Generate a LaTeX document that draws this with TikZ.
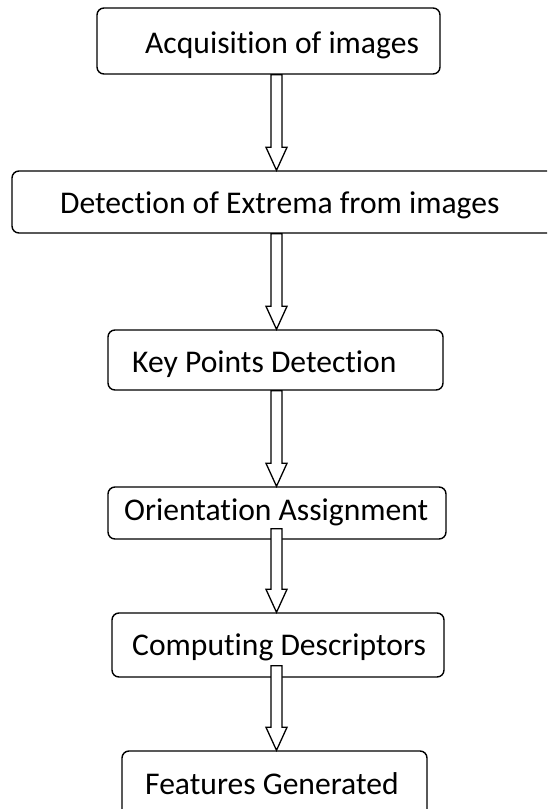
\documentclass[tikz,border=0pt]{standalone}
\usepackage{fontspec}
\setmainfont{Carlito}[Ligatures=NoCommon]
\usetikzlibrary{calc}
% hollow block arrow: #1 start point, #2 tip point (only its y is used)
\newcommand\blockarrow[2]{%
  \draw[flow] let \p1=(#1), \p2=(#2) in
    (271,\y1) -- (271,\y2+23pt) -- (266,\y2+23pt) -- (276.5,\y2)
    -- (287,\y2+23pt) -- (282,\y2+23pt) -- (282,\y1) -- cycle;}
\begin{document}
\begin{tikzpicture}[x=1pt,y=1pt,
  box/.style={draw, line width=1.4pt, rounded corners=7pt, fill=white, inner sep=0pt},
  lbl/.style={anchor=base west, font=\fontsize{31.6}{36}\selectfont, inner sep=0pt},
  flow/.style={draw, line width=1.3pt, fill=white, line join=miter}]
\useasboundingbox (0,0) rectangle (547,-809);
\clip (0,0) rectangle (547,-809);
% process boxes
\node[box, minimum width=343pt, minimum height=66pt] (b1) at (268.5,-41) {};
\node[box, minimum width=553pt, minimum height=62pt] (b2) at (288.5,-202) {};
\node[box, minimum width=335pt, minimum height=60pt] (b3) at (275.5,-360) {};
\node[box, minimum width=338pt, minimum height=52pt] (b4) at (277,-513) {};
\node[box, minimum width=332pt, minimum height=64pt] (b5) at (278,-645) {};
\node[box, minimum width=305pt, minimum height=89pt] (b6) at (274.5,-795.5) {};
% labels
\node[lbl] (t1) at (145,-53) {Acquisition of images};
\node[lbl] (t2) at (60,-213) {Detection of Extrema from images};
\node[lbl] (t3) at (132,-372) {Key Points Detection};
\node[lbl] (t4) at (124,-520) {Orientation Assignment};
\node[lbl] (t5) at (132,-655) {Computing Descriptors};
\node[lbl] (t6) at (145,-794) {Features Generated};
% flow arrows
\blockarrow{b1.south}{b2.north}
\blockarrow{b2.south}{b3.north}
\blockarrow{b3.south}{b4.north}
\blockarrow{$(b4.south)+(0,11)$}{b5.north}
\blockarrow{$(b5.south)+(0,12)$}{b6.north}
\end{tikzpicture}
\end{document}
